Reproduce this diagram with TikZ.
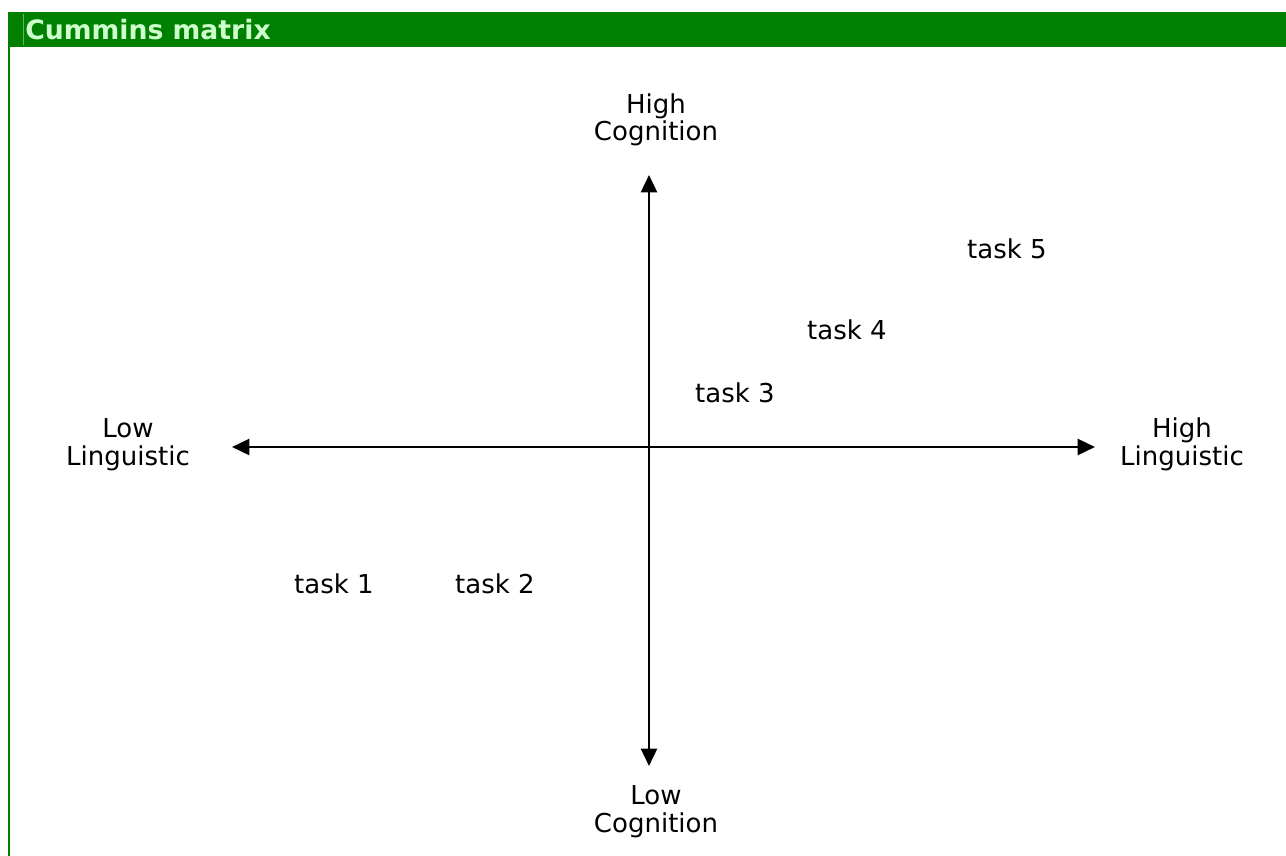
\documentclass[tikz,border=0pt]{standalone}
\usepackage{fontspec}
\setmainfont{DejaVu Sans}
\usetikzlibrary{arrows.meta}
\definecolor{hdrgreen}{HTML}{008000}
\definecolor{hdrtext}{HTML}{CCFFCC}
\begin{document}
\begin{tikzpicture}[x=0.75pt,y=-0.75pt,
  lbl/.style={inner sep=0pt, align=center, font=\fontsize{19.5pt}{20.8pt}\selectfont, anchor=base},
  axis/.style={line width=1.9pt, {Triangle[length=13pt,width=12pt]}-{Triangle[length=13pt,width=12pt]}}]
\useasboundingbox (0,0) rectangle (1286,856);
% header and frame
\fill[hdrgreen] (8,12) rectangle (1286,47);
\fill[hdrgreen] (8,12) rectangle (10,856);
\draw[hdrgreen!60!white, line width=0.6pt] (23,14) -- (23,45);
\node[inner sep=0pt, anchor=base west, text=hdrtext, font=\fontsize{20pt}{21pt}\selectfont\bfseries] (title) at (25,40) {Cummins matrix};
% axes
\coordinate (top) at (649,175);
\coordinate (bot) at (649,766);
\coordinate (lft) at (232,447);
\coordinate (rgt) at (1095,447);
\draw[axis] (lft) -- (rgt);
\draw[axis] (top) -- (bot);
% axis labels (base = baseline of last line)
\node[lbl] (hc) at (656,141) {High\\Cognition};
\node[lbl] (lc) at (656,832) {Low\\Cognition};
\node[lbl] (ll) at (128,465) {Low\\Linguistic};
\node[lbl] (hl) at (1182,465) {High\\Linguistic};
% tasks
\node[lbl] (t1) at (334,593) {task 1};
\node[lbl] (t2) at (495,593) {task 2};
\node[lbl] (t3) at (735,402) {task 3};
\node[lbl] (t4) at (847,339) {task 4};
\node[lbl] (t5) at (1007,258) {task 5};
\end{tikzpicture}
\end{document}
